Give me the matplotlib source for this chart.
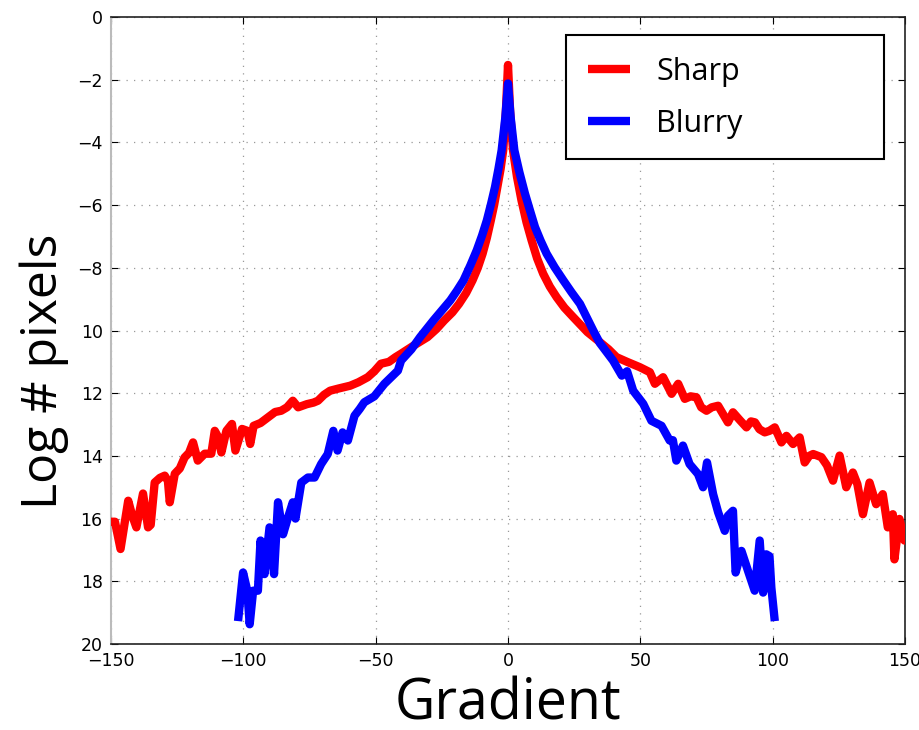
import matplotlib
matplotlib.use("Agg")
import matplotlib.pyplot as plt
from matplotlib.patches import Rectangle

# ---- data (magnitude of log # pixels, axis drawn inverted) ----
sharp_x = [-150, -148.5, -146.4, -143.5, -142, -140.4, -137.9, -136, -135, -133.5, -131.5, -129.7,
           -128.5, -127.8, -125.9, -124, -122.2, -120.5, -119, -117.2, -114.6, -112.1, -110.8,
           -109.5, -108.3, -106.4, -104.3, -103.0, -100.5, -98.5, -97.4, -96.1, -93.5, -90.7,
           -88, -85.7, -83.5, -81.3, -79.3, -76, -73.5, -71.8, -69.5, -67.2, -64, -61.5, -59.6,
           -56.5, -53, -50.5, -48, -45, -42.5, -40.4, -36, -30.4, -27, -24.1, -21, -18.5, -15.8,
           -13.4, -11.4, -9.6, -8, -6.5, -5.2, -4.0, -2.8, -1.8, -0.8, 0, 0.8, 1.9, 3.4, 5.1, 7,
           8.9, 11, 13.3, 15.8, 18.4, 21.3, 24.6, 30, 34.7, 38, 41,
           45, 49.8, 53.6, 55.5, 58.6, 61.8, 64.3, 66.8, 69, 71.2, 73, 75, 77, 79.4, 81.5, 83.1,
           85, 87.5, 90.1, 91.8, 93.3, 95, 97, 98.8, 100.8, 103.3, 105.2, 107.7, 110.2, 112.1,
           113.8, 115.3, 118.4, 120.5, 122.8, 125.3, 127.8, 130.3, 132, 134.1, 136.6, 139.1,
           141.6, 143.5, 145.4, 146, 147.9, 149.8, 150]
sharp_y = [16.1, 16.1, 16.97, 15.43, 15.9, 16.28, 15.2, 16.28, 16.2, 14.85, 14.7, 14.63,
           14.8, 15.48, 14.57, 14.4, 14.05, 13.9, 13.57, 14.15, 13.93, 13.93, 13.2,
           13.4, 13.89, 13.2, 12.98, 13.83, 13.14, 13.2, 13.62, 13.04, 12.95, 12.77,
           12.6, 12.56, 12.45, 12.24, 12.45, 12.35, 12.3, 12.24, 12.05, 11.92, 11.85, 11.8, 11.76,
           11.65, 11.49, 11.3, 11.06, 11.0, 10.85, 10.74, 10.5, 10.21, 9.95, 9.68, 9.42, 9.15, 8.8,
           8.4, 8.0, 7.55, 7.05, 6.49, 5.98, 5.42, 4.85, 4.25, 3.0, 1.53, 3.0, 4.25, 5.1, 5.85, 6.55,
           7.12, 7.7, 8.19, 8.6, 8.94, 9.27, 9.57, 10.05, 10.37, 10.6, 10.85,
           11.0, 11.17, 11.33, 11.7, 11.49, 12.02, 11.7, 12.18, 12.1, 12.13, 12.45, 12.56, 12.45, 12.4, 12.7, 12.93,
           12.61, 12.85, 13.09, 12.9, 12.93, 13.15, 13.25, 13.2, 13.09, 13.57, 13.36, 13.62, 13.41, 14.21,
           14.0, 13.94, 14.04, 14.3, 14.79, 13.99, 15.0, 14.53, 14.9, 15.86, 14.85, 15.54,
           15.22, 16.28, 15.86, 17.3, 16.01, 16.7, 16.7]

blurry_x = [-102, -100.1, -98.5, -97.6, -96.3, -94.5, -93.5, -92.0, -90.1, -88.4, -86.9, -85.0,
            -83.1, -81.3, -80.3, -78.1, -75.6, -73.1, -70.6, -68.1, -66.0, -64.4, -62.5, -60.5,
            -58, -56, -54.3, -50.5, -46.7, -41.6, -40.4, -36.5, -33.2, -28.2, -25, -21.8, -19.2,
            -16.8, -14.2, -11.8, -9.8, -8.0, -6.4, -4.9, -3.6, -2.4, -1.0, 0, 1.0, 2.4, 4.3, 6.4,
            8.3, 10.2, 12.3, 14.6, 17.6, 20.9, 24, 27.2, 32.2, 34.7, 39.7, 43, 45,
            47.3, 51.1, 54.2, 58, 61.1, 62.3, 63.6, 66.1, 68.6, 71.8, 73.7, 75.2, 77.5, 79.4, 81.9,
            83.1, 85, 86, 88.2, 90.7, 93.2, 95.1, 96.4, 97.6, 98.8, 99.5, 100.8]
blurry_y = [19.27, 17.72, 18.3, 19.37, 18.3, 18.3, 16.7, 17.77, 16.28, 17.77, 15.48, 16.5,
            15.96, 15.48, 16.0, 14.85, 14.69, 14.69, 14.26, 13.94, 13.2, 13.83, 13.25, 13.51,
            12.72, 12.5, 12.29, 12.1, 11.7, 11.28, 10.96, 10.6, 10.21, 9.68, 9.36, 9.04, 8.72,
            8.4, 7.92, 7.44, 6.97, 6.49, 5.96, 5.42, 4.84, 4.25, 3.2, 2.12, 3.2, 4.25, 4.95, 5.63,
            6.17, 6.7, 7.13, 7.55, 7.98, 8.4, 8.78, 9.15, 10.0, 10.4, 10.96, 11.44, 11.3,
            11.92, 12.34, 12.88, 13.04, 13.51, 13.5, 14.15, 13.67, 14.26, 14.58, 15.0, 14.21, 15.22, 15.8, 16.39,
            15.91, 15.75, 17.72, 17.03, 17.67, 18.3, 16.7, 18.36, 17.14, 17.2, 18.2, 19.27]

series_labels = ["Sharp", "Blurry"]
series_colors = ["#ff0000", "#0000ff"]

x_ticks = [-150, -100, -50, 0, 50, 100, 150]
x_tick_labels = ["\u2212150", "\u2212100", "\u221250", "0", "50", "100", "150"]
y_ticks = [0, 2, 4, 6, 8, 10, 12, 14, 16, 18, 20]
y_tick_labels = ["0", "\u22122", "\u22124", "\u22126", "\u22128", "10", "12", "14", "16", "18", "20"]

label_family = "Open Sans"
W, H = 919, 730

fig = plt.figure(figsize=(W / 100, H / 100), dpi=100)
ax = fig.add_axes([111 / W, 1 - 644 / H, (905 - 111) / W, (644 - 17) / H])

ax.plot(sharp_x, sharp_y, color=series_colors[0], lw=6, label=series_labels[0],
        solid_joinstyle="round", solid_capstyle="butt", zorder=3)
ax.plot(blurry_x, blurry_y, color=series_colors[1], lw=6, label=series_labels[1],
        solid_joinstyle="round", solid_capstyle="butt", zorder=4)

ax.set_xlim(-150, 150)
ax.set_ylim(20, 0)
ax.set_xticks(x_ticks)
ax.set_xticklabels(x_tick_labels, fontsize=12.5)
ax.set_yticks(y_ticks)
ax.set_yticklabels(y_tick_labels, fontsize=12.5)
ax.tick_params(direction="in", length=5, width=0.8, top=True, right=True, pad=6, colors="black")

ax.grid(True, linestyle=(0, (1, 5)), color="#999999", linewidth=0.9)

for side in ["top", "bottom", "right"]:
    ax.spines[side].set_color("#222222")
    ax.spines[side].set_linewidth(1.2)
ax.spines["left"].set_color("#bbbbbb")
ax.spines["left"].set_linewidth(1.5)

ax.set_xlabel("Gradient", fontfamily=label_family, fontsize=40)
ax.xaxis.set_label_coords(0.5, -(676 - 644) / 627)
ax.set_ylabel("Log # pixels", fontfamily=label_family, fontsize=36)
ylab = ax.yaxis.label
ylab.set_rotation_mode("default")
ylab.set_va("center")
ylab.set_ha("center")
ax.yaxis.set_label_coords((44 - 111) / 794, (644 - 371) / 627)

# legend: entries without frame, plus a separate box as in the reference
leg_fs = 22
leg_px = leg_fs * 100 / 72
leg = ax.legend(loc="upper left", bbox_to_anchor=(588 / W, 1 - 57 / H),
                bbox_transform=fig.transFigure, prop={"family": label_family, "size": leg_fs},
                frameon=False, borderpad=0, borderaxespad=0,
                handlelength=42 / leg_px, handletextpad=26 / leg_px,
                labelspacing=22 / leg_px)
box = Rectangle((566 / W, 1 - 159 / H), (884 - 566) / W, (159 - 35) / H,
                transform=fig.transFigure, facecolor="white", edgecolor="black",
                linewidth=1.5, zorder=4.5)
ax.add_artist(box)
box.set_clip_on(False)
leg.set_zorder(5)

fig.savefig("out.png", dpi=100)
